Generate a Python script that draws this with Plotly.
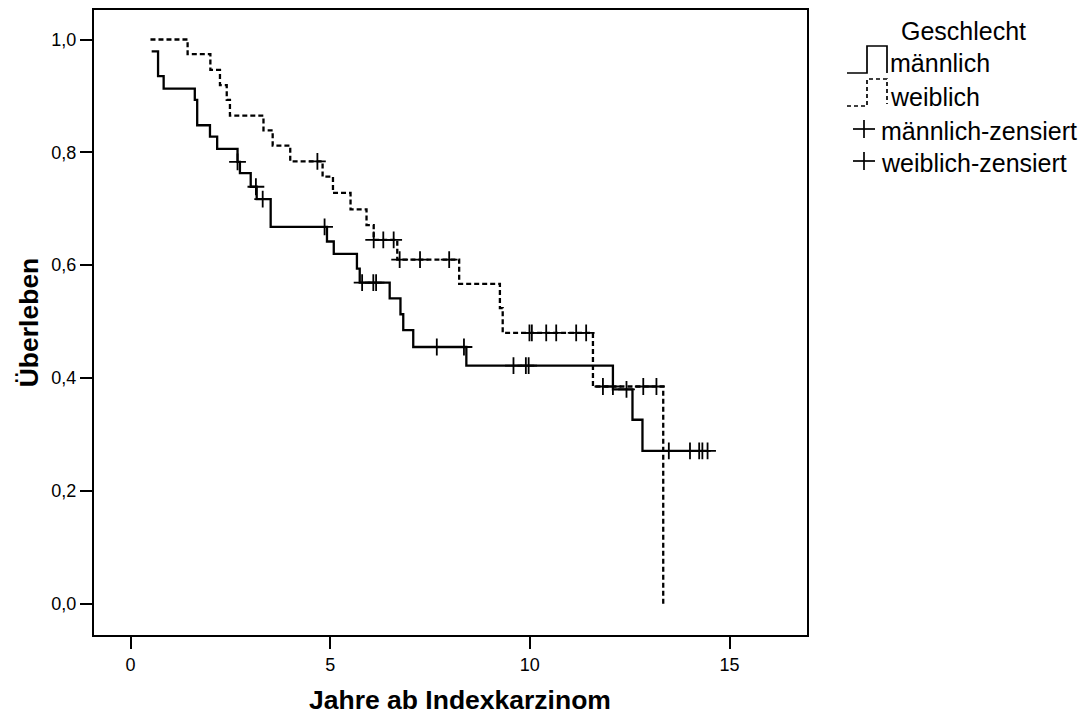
import plotly.graph_objects as go

# ---------------- data ----------------
groups = ["männlich", "weiblich"]

male_start_time = 0.53
male_start_surv = 0.979
male_event_times = [0.69, 0.83, 1.61, 1.67, 1.99, 2.17, 2.68, 2.74, 3.01, 3.16, 3.51,
                    4.92, 5.09, 5.67, 5.74, 6.49, 6.76, 6.83, 7.08, 8.41, 12.08, 12.57, 12.82]
male_event_surv = [0.935, 0.913, 0.893, 0.848, 0.828, 0.806, 0.783, 0.763, 0.739, 0.717, 0.668,
                   0.642, 0.620, 0.594, 0.569, 0.541, 0.513, 0.485, 0.455, 0.422, 0.380, 0.326, 0.271]
male_censor_times = [2.68, 3.14, 3.31, 4.86, 5.80, 6.08, 6.15, 7.67, 8.35, 9.59, 9.90, 9.97,
                     12.42, 13.48, 14.01, 14.24, 14.32, 14.45]

female_start_time = 0.50
female_start_surv = 1.0
female_event_times = [1.43, 2.00, 2.24, 2.41, 2.49, 3.33, 3.56, 4.00, 4.81, 5.07, 5.51, 5.91,
                      6.09, 6.68, 8.23, 9.25, 9.32, 11.58, 13.34]
female_event_surv = [0.974, 0.946, 0.919, 0.893, 0.865, 0.839, 0.812, 0.784, 0.757, 0.728, 0.699, 0.671,
                     0.645, 0.610, 0.567, 0.524, 0.480, 0.385, 0.0]
female_censor_times = [4.68, 6.09, 6.33, 6.59, 6.74, 7.25, 7.98, 9.99, 10.05, 10.41, 10.66, 11.16,
                       11.41, 11.83, 12.08, 12.84, 13.17]

x_tick_vals = [0, 5, 10, 15]
x_tick_text = ["0", "5", "10", "15"]
y_tick_vals = [0.0, 0.2, 0.4, 0.6, 0.8, 1.0]
y_tick_text = ["0,0", "0,2", "0,4", "0,6", "0,8", "1,0"]

legend_title = "Geschlecht"
legend_labels = ["männlich", "weiblich", "männlich-zensiert", "weiblich-zensiert"]
x_title = "Jahre ab Indexkarzinom"
y_title = "Überleben"

# ---------------- helpers ----------------
def surv_at(t, start_t, start_s, ev_t, ev_s):
    s = start_s
    for et, es in zip(ev_t, ev_s):
        if et <= t + 1e-9:
            s = es
    return s

def step_xy(start_t, start_s, ev_t, ev_s, cens_t):
    xs = [start_t] + list(ev_t)
    ys = [start_s] + list(ev_s)
    if cens_t and max(cens_t) > xs[-1] and ys[-1] > 0:
        xs.append(max(cens_t))
        ys.append(ys[-1])
    return xs, ys

FONT = "Liberation Sans, Arial, Helvetica, sans-serif"
OFF = 8                      # page body margin of the html page
W, H = 1080, 714
L, R, T, B = 86, 799, 2, 627  # plot area in figure pixels

fig = go.Figure()

mx, my = step_xy(male_start_time, male_start_surv, male_event_times, male_event_surv, male_censor_times)
fx, fy = step_xy(female_start_time, female_start_surv, female_event_times, female_event_surv, female_censor_times)

fig.add_trace(go.Scatter(x=mx, y=my, mode="lines", line_shape="hv", name=groups[0],
                         line=dict(color="black", width=2.3), showlegend=False, hoverinfo="skip"))
fig.add_trace(go.Scatter(x=fx, y=fy, mode="lines", line_shape="hv", name=groups[1],
                         line=dict(color="black", width=2.3, dash="5px,3px"), showlegend=False, hoverinfo="skip"))

mcy = [surv_at(t, male_start_time, male_start_surv, male_event_times, male_event_surv) for t in male_censor_times]
fcy = [surv_at(t, female_start_time, female_start_surv, female_event_times, female_event_surv) for t in female_censor_times]

for cx, cy, nm in [(male_censor_times, mcy, legend_labels[2]), (female_censor_times, fcy, legend_labels[3])]:
    fig.add_trace(go.Scatter(x=cx, y=cy, mode="markers", name=nm, showlegend=False,
                             marker=dict(symbol="cross-thin", size=12, color="black",
                                         line=dict(color="black", width=1.8))))

# ---------------- custom legend (screen pixel -> paper) ----------------
def px(x):
    return (x - OFF - L) / (R - L)

def py(y):
    return (B - (y - OFF)) / (B - T)

def path(points):
    return "M " + " L ".join(f"{px(a):.5f},{py(b):.5f}" for a, b in points)

shapes = []
shapes.append(dict(type="path", xref="paper", yref="paper",
                   path=path([(847, 73), (867, 73), (867, 46), (887, 46), (887, 73)]),
                   line=dict(color="black", width=1.7)))
shapes.append(dict(type="path", xref="paper", yref="paper",
                   path=path([(847, 106), (867, 106), (867, 79), (887, 79), (887, 104)]),
                   line=dict(color="black", width=1.7, dash="4px,3px")))
for cy_ in (129, 161):
    shapes.append(dict(type="line", xref="paper", yref="paper",
                       x0=px(853), x1=px(875), y0=py(cy_), y1=py(cy_), line=dict(color="black", width=1.7)))
    shapes.append(dict(type="line", xref="paper", yref="paper",
                       x0=px(864), x1=px(864), y0=py(cy_ - 9), y1=py(cy_ + 9), line=dict(color="black", width=1.7)))

LEG = 25
annotations = [
    dict(text=legend_title, x=px(963), y=py(31), xref="paper", yref="paper", showarrow=False,
         xanchor="center", yanchor="middle", font=dict(family=FONT, size=LEG, color="black")),
    dict(text=legend_labels[0], x=px(888), y=py(63), xref="paper", yref="paper", showarrow=False,
         xanchor="left", yanchor="middle", font=dict(family=FONT, size=LEG, color="black")),
    dict(text=legend_labels[1], x=px(888), y=py(97), xref="paper", yref="paper", showarrow=False,
         xanchor="left", yanchor="middle", font=dict(family=FONT, size=LEG, color="black")),
    dict(text=legend_labels[2], x=px(879), y=py(131), xref="paper", yref="paper", showarrow=False,
         xanchor="left", yanchor="middle", font=dict(family=FONT, size=LEG, color="black")),
    dict(text=legend_labels[3], x=px(879), y=py(163), xref="paper", yref="paper", showarrow=False,
         xanchor="left", yanchor="middle", font=dict(family=FONT, size=LEG, color="black")),
]

TITLE_FONT = dict(family=FONT, size=26.5, weight="bold", color="black")
# x-axis title (placed as an annotation so it can sit slightly right of centre, as in the reference)
annotations.append(dict(text=x_title, x=px(460), y=py(700), xref="paper", yref="paper", showarrow=False,
                        xanchor="center", yanchor="middle", font=TITLE_FONT))

fig.update_layout(
    width=W, height=H,
    margin=dict(l=L, r=W - R, t=T, b=H - B, autoexpand=False),
    paper_bgcolor="white", plot_bgcolor="white",
    showlegend=False,
    shapes=shapes, annotations=annotations,
    font=dict(family=FONT, color="black"),
)
fig.update_xaxes(
    range=[-0.914, 16.94], tickvals=x_tick_vals, ticktext=x_tick_text,
    showgrid=False, zeroline=False, showline=True, mirror=True, linecolor="black", linewidth=2,
    ticks="outside", ticklen=12, tickwidth=2, tickcolor="black",
    tickfont=dict(family=FONT, size=18, color="black"),
)
fig.update_yaxes(
    range=[-0.0555, 1.0523], tickvals=y_tick_vals, ticktext=y_tick_text,
    showgrid=False, zeroline=False, showline=True, mirror=True, linecolor="black", linewidth=2,
    ticks="outside", ticklen=12, tickwidth=2, tickcolor="black",
    tickfont=dict(family=FONT, size=18, color="black"),
    title=dict(text=y_title, standoff=5, font=TITLE_FONT),
)

fig.write_html("out.html")
